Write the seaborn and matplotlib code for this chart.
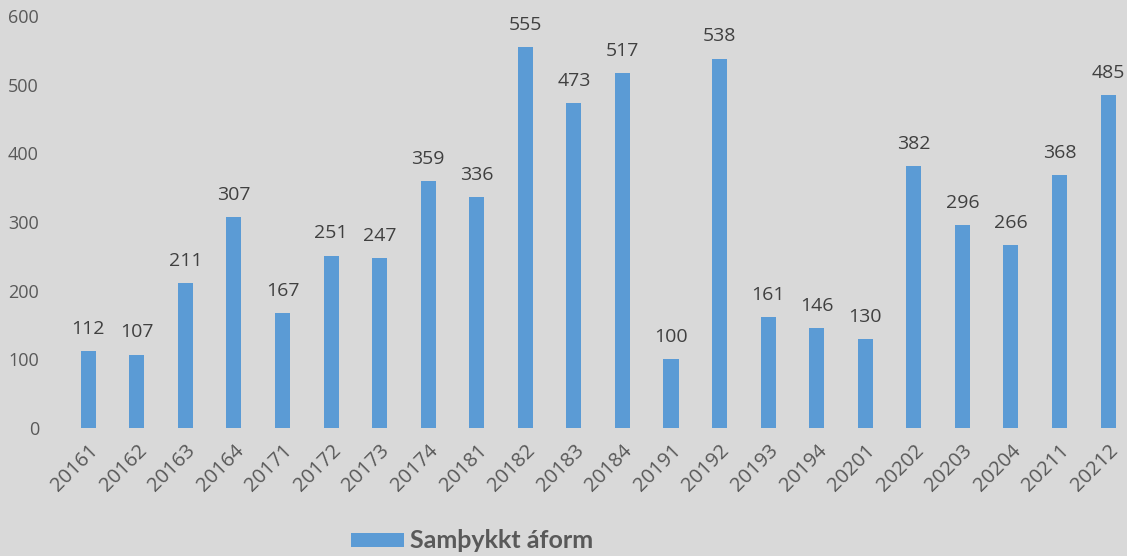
import matplotlib
matplotlib.use("Agg")
import matplotlib.pyplot as plt
import seaborn as sns
import pandas as pd

periods = ["20161", "20162", "20163", "20164", "20171", "20172", "20173", "20174",
           "20181", "20182", "20183", "20184", "20191", "20192", "20193", "20194",
           "20201", "20202", "20203", "20204", "20211", "20212"]
values = [112, 107, 211, 307, 167, 251, 247, 359, 336, 555, 473, 517,
          100, 538, 161, 146, 130, 382, 296, 266, 368, 485]
series_name = "Samþykkt áform"

bg = "#d9d9d9"
bar_color = "#5b9bd5"
text_color = "#595959"
label_color = "#404040"

sns.set_style("white")
plt.rcParams["font.family"] = ["Open Sans", "DejaVu Sans"]

df = pd.DataFrame({"period": periods, "value": values})

fig = plt.figure(figsize=(11.27, 5.56), dpi=100, facecolor=bg)
ax = fig.add_axes([64 / 1127, 128 / 556, 1 - 64 / 1127, (428 - 16) / 556])
ax.set_facecolor(bg)

sns.barplot(data=df, x="period", y="value", color=bar_color, width=0.31,
            saturation=1, linewidth=0, ax=ax, label=series_name)

# value labels above each bar
for i, v in enumerate(values):
    ax.text(i, v + 25, str(v), ha="center", va="baseline", fontsize=14, color=label_color)

ax.set_ylim(0, 600)
ax.set_xlim(-0.5, 21.39)
ax.set_yticks(range(0, 601, 100))
ax.set_xlabel("")
ax.set_ylabel("")
ax.tick_params(axis="y", labelsize=13, labelcolor=text_color, length=0, pad=18)
ax.tick_params(axis="x", labelsize=14.5, labelcolor=text_color, length=0, pad=9)
plt.setp(ax.get_xticklabels(), rotation=45, ha="right", rotation_mode="anchor")
for s in ax.spines.values():
    s.set_visible(False)

leg = ax.legend(loc="center", bbox_to_anchor=(472 / 1127, 15 / 556),
                bbox_transform=fig.transFigure, frameon=False,
                handlelength=2.1, handleheight=0.5, handletextpad=0.25,
                prop={"family": ["Lato", "DejaVu Sans"], "weight": "bold", "size": 18})
for t in leg.get_texts():
    t.set_color(text_color)

fig.savefig("out.png", dpi=100, facecolor=bg)
